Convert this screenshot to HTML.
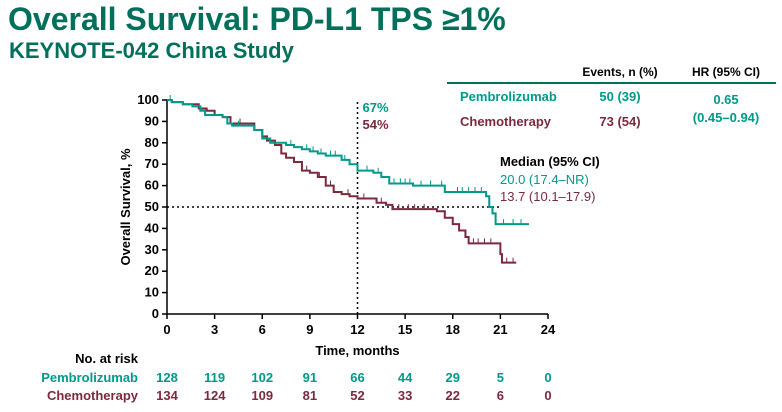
<!DOCTYPE html>
<html><head><meta charset="utf-8"><style>
body{margin:0;width:782px;height:412px;background:#fff;font-family:"Liberation Sans",Arial,sans-serif;overflow:hidden;position:relative}
.t{position:absolute;white-space:nowrap;font-weight:bold}
</style></head><body>
<div class="t" style="left:8px;top:1px;font-size:32px;color:#00705b">Overall Survival: PD-L1 TPS ≥1%</div>
<div class="t" style="left:9px;top:38px;font-size:22px;color:#00705b">KEYNOTE-042 China Study</div>
<svg width="782" height="412" style="position:absolute;left:0;top:0" font-family="Liberation Sans, Arial, sans-serif">
<g id="tbl">
<text x="620" y="76" font-size="12" font-weight="bold" text-anchor="middle" fill="#000">Events, n (%)</text>
<text x="726" y="76" font-size="12" font-weight="bold" text-anchor="middle" fill="#000">HR (95% CI)</text>
<line x1="447" y1="83" x2="776" y2="83" stroke="#00705b" stroke-width="2"/>
<text x="460" y="101" font-size="13" font-weight="bold" fill="#00998a">Pembrolizumab</text>
<text x="620" y="101" font-size="13" font-weight="bold" text-anchor="middle" fill="#00998a">50 (39)</text>
<text x="460" y="126" font-size="13" font-weight="bold" fill="#7b2a3e">Chemotherapy</text>
<text x="620" y="126" font-size="13" font-weight="bold" text-anchor="middle" fill="#7b2a3e">73 (54)</text>
<text x="726" y="104" font-size="13" font-weight="bold" text-anchor="middle" fill="#00998a">0.65</text>
<text x="726" y="122" font-size="13" font-weight="bold" text-anchor="middle" fill="#00998a">(0.45–0.94)</text>
</g>
<g id="plot"></g>
</svg>
<script>
const xTicks=[0,3,6,9,12,15,18,21,24];
const yTicks=[0,10,20,30,40,50,60,70,80,90,100];
const pembroT=[0,0.3,1,1.6,2.1,2.4,3.5,3.8,4.1,5.5,6,6.5,7.5,8,8.5,9,9.5,10,11,11.5,12,13,13.5,14,15.5,17.5,20.1,20.3,20.5,20.7,22.8];
const pembroS=[100,99,98,97,95,93,92,89,88,86,82,80,79,78,77,76,75,74,72,70,67,66,64,61,60,57,55,50,47,42,42];
const chemoT=[0,0.3,1,2,2.5,3,3.5,4,5.5,6,6.3,6.8,7.2,7.5,8,8.5,9,9.5,10,10.5,11,11.5,12,13.2,13.8,14.2,17,17.5,18,18.4,18.8,19,21,21.1,22];
const chemoS=[100,99,98,96,95,93,92,89,86,83,81,79,75,73,71,67,66,64,60,57,56,55,54,52,51,49,48,45,42,39,36,33,28,24,24];
const pembroCens=[0.2,4.5,7.8,8.8,9.2,9.7,10.3,10.6,11.2,12.6,13.3,14.3,14.7,15,15.3,16,16.6,17.3,18.3,18.6,19,19.4,19.8,21.2,21.8,22.3];
const chemoCens=[4.6,8.8,9.6,10.3,11.4,12.4,13.5,14.6,15.2,15.6,16.2,19.3,19.6,20,20.4,21.4,21.8];
const riskTimes=[0,3,6,9,12,15,18,21,24];
const riskPembro=[128,119,102,91,66,44,29,5,0];
const riskChemo=[134,124,109,81,52,33,22,6,0];
const medians=["20.0 (17.4–NR)","13.7 (10.1–17.9)"];
const landmark=[67,54];

const NS="http://www.w3.org/2000/svg";
const g=document.getElementById('plot');
const X=t=>167+t*(381/24);
const Y=s=>314-s*2.14;
function el(tag,attrs,txt){const e=document.createElementNS(NS,tag);for(const k in attrs)e.setAttribute(k,attrs[k]);if(txt!==undefined)e.textContent=txt;g.appendChild(e);return e;}
let a=el('line',{x1:X(0),y1:Y(0),x2:X(24),y2:Y(0),stroke:'#000','stroke-width':1.5});


a=el('line',{x1:X(0),y1:Y(0),x2:X(0),y2:Y(100),stroke:'#000','stroke-width':1.5});


xTicks.forEach(v=>{el('line',{x1:X(v),y1:Y(0),x2:X(v),y2:Y(0)+5,stroke:'#000','stroke-width':1.5});
 const t=el('text',{x:X(v),y:Y(0)+20,'font-size':13,'font-weight':'bold','text-anchor':'middle'},v);
 
 });
yTicks.forEach(v=>{el('line',{x1:X(0)-5,y1:Y(v),x2:X(0),y2:Y(v),stroke:'#000','stroke-width':1.5});
 const t=el('text',{x:X(0)-8,y:Y(v)+4,'font-size':13,'font-weight':'bold','text-anchor':'end'},v);
 
 });
let t=el('text',{x:X(12),y:355,'font-size':13,'font-weight':'bold','text-anchor':'middle'},'Time, months');


t=el('text',{x:130,y:Y(50),'font-size':13,'font-weight':'bold','text-anchor':'middle',transform:`rotate(-90 130 ${Y(50)})`},'Overall Survival, %');


el('line',{x1:X(0),y1:Y(50),x2:X(21),y2:Y(50),stroke:'#000','stroke-width':1.5,'stroke-dasharray':'2,3'});
el('line',{x1:X(12),y1:Y(0),x2:X(12),y2:Y(100),stroke:'#000','stroke-width':1.5,'stroke-dasharray':'2,3'});
function curve(T,S,C,col,name){let d=`M${X(T[0])},${Y(S[0])}`;for(let i=1;i<T.length;i++){d+=`H${X(T[i])}V${Y(S[i])}`;}
 const p=el('path',{d:d,fill:'none',stroke:col,'stroke-width':2});
 
 
 C.forEach(c=>{let s=S[0];for(let i=0;i<T.length;i++){if(T[i]<=c)s=S[i];}
  const m=el('line',{x1:X(c),y1:Y(s),x2:X(c),y2:Y(s)-5,stroke:col,'stroke-width':1});
  
  });}
curve(chemoT,chemoS,chemoCens,'#7b2a3e','chemotherapy');
curve(pembroT,pembroS,pembroCens,'#00998a','pembrolizumab');
t=el('text',{x:X(12)+5,y:112,'font-size':13,'font-weight':'bold',fill:'#00998a'},landmark[0]+'%');


t=el('text',{x:X(12)+5,y:129,'font-size':13,'font-weight':'bold',fill:'#7b2a3e'},landmark[1]+'%');


t=el('text',{x:500,y:166,'font-size':13,'font-weight':'bold'},'Median (95% CI)');


t=el('text',{x:500,y:184,'font-size':13,fill:'#00998a'},medians[0]);


t=el('text',{x:500,y:201,'font-size':13,fill:'#7b2a3e'},medians[1]);


t=el('text',{x:138,y:363,'font-size':13,'font-weight':'bold','text-anchor':'end'},'No. at risk');


t=el('text',{x:138,y:382,'font-size':13,'font-weight':'bold','text-anchor':'end',fill:'#00998a'},'Pembrolizumab');


t=el('text',{x:138,y:400,'font-size':13,'font-weight':'bold','text-anchor':'end',fill:'#7b2a3e'},'Chemotherapy');


riskTimes.forEach((v,i)=>{
 let r=el('text',{x:X(v),y:382,'font-size':13,'font-weight':'bold','text-anchor':'middle',fill:'#00998a'},riskPembro[i]);
 
 
 r=el('text',{x:X(v),y:400,'font-size':13,'font-weight':'bold','text-anchor':'middle',fill:'#7b2a3e'},riskChemo[i]);
 
 });
</script>
</body></html>
